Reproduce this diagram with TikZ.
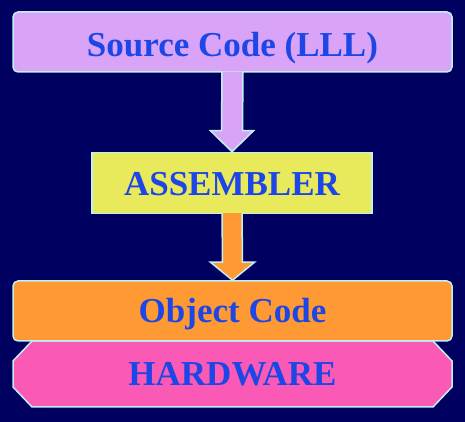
\documentclass[tikz,border=0pt]{standalone}
\usepackage{fontspec}
\setmainfont{Liberation Serif}
\usetikzlibrary{positioning,calc}
\definecolor{navybg}{HTML}{000060}
\definecolor{lavender}{HTML}{D9A3F7}
\definecolor{lemon}{HTML}{E9E95C}
\definecolor{tangerine}{HTML}{FF9933}
\definecolor{rosepink}{HTML}{FA5AB6}
\definecolor{labelblue}{HTML}{1C47E6}
\definecolor{rimcyan}{HTML}{C0F0F0}

\tikzset{
  layer/.style={draw=rimcyan, line width=1.5pt, inner sep=0pt,
    text height=23pt, text depth=0pt,
    text=labelblue, font=\fontsize{35}{38}\selectfont\bfseries},
  rim/.style={draw=rimcyan, line width=1.5pt, line join=miter}
}

\begin{document}
\begin{tikzpicture}[x=1pt, y=1pt]
  % Background
  \fill[navybg] (0,0) rectangle (465,422);
  % Define nodes
  \node[layer, fill=lavender, rounded corners=5pt, minimum width=439pt, minimum height=60pt, text height=29pt] (src) at (232.5,380) {Source Code (LLL)};
  \node[layer, fill=lemon, minimum width=280pt, minimum height=61pt, below=79pt of src, xshift=-0.5pt, text height=26pt] (asm) {ASSEMBLER};
  % hardware slab with cut corners
  \coordinate (hwc) at (232.5,48);
  \filldraw[rim, fill=rosepink] ($(hwc)+(-200.5,33)$) -- ($(hwc)+(200.5,33)$) -- ($(hwc)+(219.5,13)$) -- ($(hwc)+(219.5,-13)$) -- ($(hwc)+(200.5,-33)$) -- ($(hwc)+(-200.5,-33)$) -- ($(hwc)+(-219.5,-13)$) -- ($(hwc)+(-219.5,13)$) -- cycle;
  \node[layer, draw=none, minimum width=439pt, minimum height=66pt] (hw) at (hwc) {HARDWARE};
  \node[layer, fill=tangerine, rounded corners=5pt, minimum width=439pt, minimum height=60pt] (obj) at (232.5,111) {Object Code};
  % Connect nodes
  \filldraw[rim, fill=lavender] ($(src.south)+(-10.5,1)$) -- ($(asm.north)+(-10.5,21)$) -- ($(asm.north)+(-21.5,21)$) -- (asm.north) -- ($(asm.north)+(21.5,21)$) -- ($(asm.north)+(10.5,21)$) -- ($(src.south)+(10.5,1)$);
  \filldraw[rim, fill=tangerine] ($(asm.south)+(-10,1)$) -- ($(obj.north)+(-10,18)$) -- ($(obj.north)+(-22,18)$) -- (obj.north) -- ($(obj.north)+(22,18)$) -- ($(obj.north)+(10,18)$) -- ($(asm.south)+(10,1)$);
\end{tikzpicture}
\end{document}
